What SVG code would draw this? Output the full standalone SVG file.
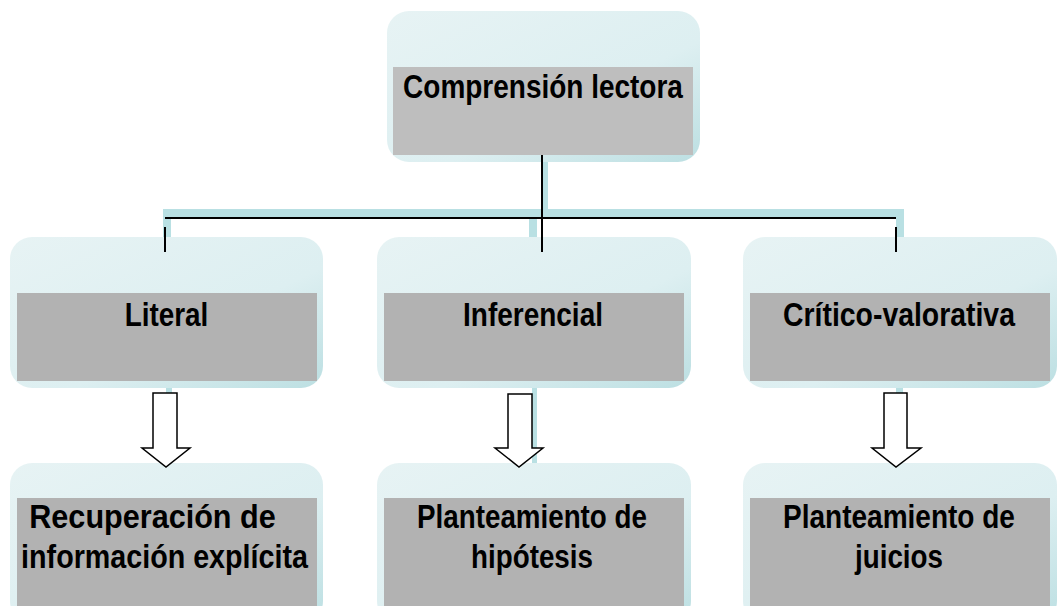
<svg xmlns="http://www.w3.org/2000/svg" width="1058" height="606" viewBox="0 0 1058 606">
<defs>
<linearGradient id="bg" x1="0" y1="0" x2="1" y2="1">
<stop offset="0" stop-color="#e7f3f4"/>
<stop offset="0.6" stop-color="#ddeff1"/>
<stop offset="1" stop-color="#bcdfe2"/>
</linearGradient>
<style>
.box{fill:url(#bg);}
.g1{fill:#bebebe;}
.g2{fill:#b2b2b2;}
.lb{fill:#b9e0e3;}
.ln{stroke:#000;stroke-width:2;fill:none;}
.arr{fill:#fff;stroke:#000;stroke-width:1.5;stroke-linejoin:miter;}
text{font-family:"Liberation Sans",Arial,sans-serif;font-weight:bold;font-size:34px;fill:#000;text-anchor:middle;}
.t0{font-size:32.5px;}
</style>
</defs>
<rect width="1058" height="606" fill="#fff"/>
<g id="connectors">
<rect class="lb" x="543" y="160" width="5" height="50"/>
<rect class="lb" x="163" y="209" width="741" height="10"/>
<rect class="lb" x="163" y="209" width="8" height="29"/>
<rect class="lb" x="896" y="209" width="8" height="29"/>
<rect class="lb" x="529" y="218" width="8" height="20"/>
<rect class="lb" x="166" y="386" width="6" height="78"/>
<rect class="lb" x="532" y="386" width="5" height="78"/>
<rect class="lb" x="896" y="386" width="7" height="78"/>
</g>
<g id="top">
<rect class="box" x="387" y="11" width="313" height="151" rx="22"/>
<rect class="g1" x="393" y="67" width="300" height="88"/>
<text class="t0" transform="translate(543,98) scale(0.861,1)">Comprensión lectora</text>
</g>
<g id="literal">
<rect class="box" x="10" y="237" width="313" height="151" rx="22"/>
<rect class="g2" x="17" y="293" width="300" height="88"/>
<text transform="translate(166.5,326) scale(0.82,1)">Literal</text>
</g>
<g id="inferencial">
<rect class="box" x="377" y="237" width="314" height="151" rx="22"/>
<rect class="g2" x="384" y="293" width="300" height="88"/>
<text transform="translate(533,326) scale(0.823,1)">Inferencial</text>
</g>
<g id="critico">
<rect class="box" x="743" y="237" width="314" height="151" rx="22"/>
<rect class="g2" x="750" y="293" width="300" height="88"/>
<text transform="translate(899,326) scale(0.835,1)">Crítico-valorativa</text>
</g>
<g id="recuperacion">
<rect class="box" x="10" y="463" width="313" height="160" rx="22"/>
<rect class="g2" x="17" y="498" width="300" height="120"/>
<text transform="translate(152.5,528) scale(0.9,1)">Recuperación de</text>
<text transform="translate(164.5,568) scale(0.844,1)">información explícita</text>
</g>
<g id="hipotesis">
<rect class="box" x="377" y="463" width="314" height="160" rx="22"/>
<rect class="g2" x="384" y="498" width="300" height="120"/>
<text transform="translate(532,528) scale(0.817,1)">Planteamiento de</text>
<text transform="translate(532,568) scale(0.817,1)">hipótesis</text>
</g>
<g id="juicios">
<rect class="box" x="743" y="463" width="314" height="160" rx="22"/>
<rect class="g2" x="750" y="498" width="300" height="120"/>
<text transform="translate(899,528) scale(0.824,1)">Planteamiento de</text>
<text transform="translate(899,568) scale(0.817,1)">juicios</text>
</g>
<g id="lines">
<line class="ln" x1="542" y1="155" x2="542" y2="252"/>
<line class="ln" x1="165" y1="218" x2="896" y2="218"/>
<line class="ln" x1="165" y1="227" x2="165" y2="252"/>
<line class="ln" x1="896" y1="227" x2="896" y2="252"/>
</g>
<g id="arrows">
<polygon class="arr" points="153,393 177,393 177,448 190,448 166,467 142,448 153,448"/>
<polygon class="arr" points="508,394 532,394 532,448 543,448 519,467 495,448 508,448"/>
<polygon class="arr" points="884,393 907,393 907,448 921,448 896,467 872,448 884,448"/>
</g>
</svg>
